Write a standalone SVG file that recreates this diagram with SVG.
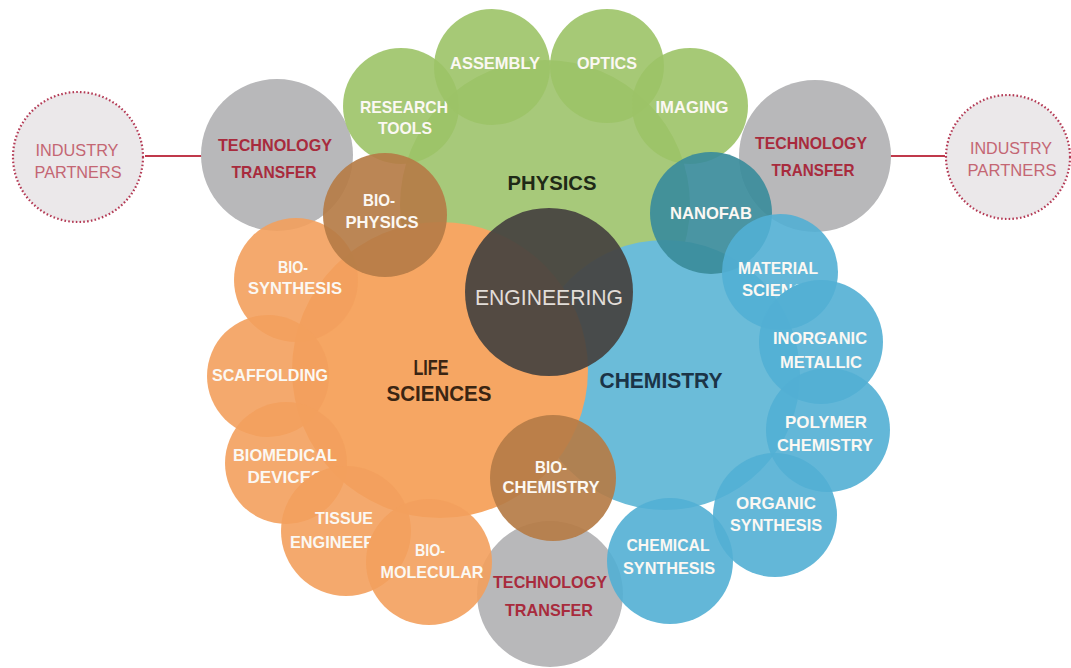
<svg xmlns="http://www.w3.org/2000/svg" width="1071" height="668" viewBox="0 0 1071 668">
<style>
text{font-family:"Liberation Sans",Arial,sans-serif;text-anchor:middle;font-size:17px;fill:#fbf8f3;font-weight:bold}
.tt{fill:#a82b3d}
.ind{fill:#c46673;font-weight:normal}
.main{font-size:22px}
.gray{fill:#b8b8ba}
.grn{fill:#9cc367;fill-opacity:0.9}
.org{fill:#f3a05d;fill-opacity:0.9}
.blu{fill:#52afd4;fill-opacity:0.9}
.brn{fill:#b57c47;fill-opacity:0.92}
.ind-c{fill:#ebe8ea;stroke:#b43a55;stroke-width:2.2;stroke-dasharray:1.6 2.2}
.conn{stroke:#c0394b;stroke-width:2.2}
</style>
<defs>
<clipPath id="notInorganic"><path clip-rule="evenodd" d="M0 0H1071V668H0Z M759 342a62 62 0 1 0 124 0a62 62 0 1 0-124 0Z"/></clipPath>
<clipPath id="notTissue"><path clip-rule="evenodd" d="M0 0H1071V668H0Z M281 531a65 65 0 1 0 130 0a65 65 0 1 0-130 0Z"/></clipPath>
<clipPath id="notBiomol"><path clip-rule="evenodd" d="M0 0H1071V668H0Z M366 562a63 63 0 1 0 126 0a63 63 0 1 0-126 0Z"/></clipPath>
</defs>
<rect width="1071" height="668" fill="#ffffff"/>
<g id="connectors">
<line class="conn" x1="145" y1="156" x2="202" y2="156"/>
<line class="conn" x1="887" y1="156" x2="945" y2="156"/>
</g>
<g id="industry-left"><circle class="ind-c" cx="78" cy="157" r="65"/>
<text class="ind" x="77" y="156" textLength="83" lengthAdjust="spacingAndGlyphs">INDUSTRY</text>
<text class="ind" x="78" y="178" textLength="87" lengthAdjust="spacingAndGlyphs">PARTNERS</text></g>
<g id="industry-right"><circle class="ind-c" cx="1008" cy="157" r="62"/>
<text class="ind" x="1011" y="154" textLength="82" lengthAdjust="spacingAndGlyphs">INDUSTRY</text>
<text class="ind" x="1012" y="176" textLength="89" lengthAdjust="spacingAndGlyphs">PARTNERS</text></g>
<g id="tt-left"><circle class="gray" cx="277" cy="155" r="76"/>
<text class="tt" x="275" y="151" textLength="114" lengthAdjust="spacingAndGlyphs">TECHNOLOGY</text>
<text class="tt" x="274" y="178" textLength="85" lengthAdjust="spacingAndGlyphs">TRANSFER</text></g>
<g id="tt-right"><circle class="gray" cx="815" cy="156" r="76"/>
<text class="tt" x="811" y="149" textLength="112" lengthAdjust="spacingAndGlyphs">TECHNOLOGY</text>
<text class="tt" x="813" y="176" textLength="83" lengthAdjust="spacingAndGlyphs">TRANSFER</text></g>
<g id="tt-bottom"><circle class="gray" cx="550" cy="594" r="73"/></g>
<g id="physics"><circle cx="545" cy="205" r="145" fill="#a7c97a"/></g>
<g id="chemistry"><circle cx="665" cy="375" r="135" fill="#6bbcd9"/></g>
<g id="life-sciences"><circle cx="440" cy="370" r="148" fill="#f6a663"/></g>
<g id="research-tools"><circle class="grn" cx="401" cy="106" r="58"/>
<text x="404" y="113" textLength="88" lengthAdjust="spacingAndGlyphs">RESEARCH</text>
<text x="405" y="134" textLength="54" lengthAdjust="spacingAndGlyphs">TOOLS</text></g>
<g id="assembly"><circle class="grn" cx="492" cy="67" r="58"/>
<text x="495" y="69" textLength="90" lengthAdjust="spacingAndGlyphs">ASSEMBLY</text></g>
<g id="optics"><circle class="grn" cx="607" cy="66" r="57"/>
<text x="607" y="69" textLength="60" lengthAdjust="spacingAndGlyphs">OPTICS</text></g>
<g id="imaging"><circle class="grn" cx="690" cy="106" r="58"/>
<text x="692" y="113" textLength="73" lengthAdjust="spacingAndGlyphs">IMAGING</text></g>
<g id="bio-synthesis"><circle class="org" cx="296" cy="280" r="62"/>
<text x="293" y="273" textLength="30" lengthAdjust="spacingAndGlyphs">BIO-</text>
<text x="295" y="294" textLength="94" lengthAdjust="spacingAndGlyphs">SYNTHESIS</text></g>
<g id="bio-physics"><circle class="brn" cx="385" cy="215" r="62"/>
<text x="379" y="206" textLength="32" lengthAdjust="spacingAndGlyphs">BIO-</text>
<text x="382" y="228" textLength="73" lengthAdjust="spacingAndGlyphs">PHYSICS</text></g>
<g id="scaffolding"><circle class="org" cx="268" cy="376" r="61"/>
<text x="270" y="381" textLength="116" lengthAdjust="spacingAndGlyphs">SCAFFOLDING</text></g>
<g id="biomedical-devices"><circle class="org" cx="286" cy="463" r="61"/>
<text x="285" y="461" textLength="104" lengthAdjust="spacingAndGlyphs">BIOMEDICAL</text>
<text x="285" y="483" textLength="75" lengthAdjust="spacingAndGlyphs" clip-path="url(#notTissue)">DEVICES</text></g>
<g id="tissue-engineering"><circle class="org" cx="346" cy="531" r="65"/>
<text x="344" y="524" textLength="58" lengthAdjust="spacingAndGlyphs">TISSUE</text>
<text x="347" y="548" textLength="114" lengthAdjust="spacingAndGlyphs" clip-path="url(#notBiomol)">ENGINEERING</text></g>
<g id="bio-molecular"><circle class="org" cx="429" cy="562" r="63"/>
<text x="430" y="556" textLength="30" lengthAdjust="spacingAndGlyphs">BIO-</text>
<text x="432" y="578" textLength="103" lengthAdjust="spacingAndGlyphs">MOLECULAR</text></g>
<g id="nanofab"><circle cx="711" cy="213" r="61" fill="#3b8c9b" fill-opacity="0.92"/>
<text x="711" y="219" textLength="82" lengthAdjust="spacingAndGlyphs">NANOFAB</text></g>
<g id="material-science"><circle class="blu" cx="780" cy="272" r="58"/>
<text x="778" y="274" textLength="80" lengthAdjust="spacingAndGlyphs">MATERIAL</text>
<text x="779" y="296" textLength="74" lengthAdjust="spacingAndGlyphs" clip-path="url(#notInorganic)">SCIENCE</text></g>
<g id="inorganic-metallic"><circle class="blu" cx="821" cy="342" r="62"/>
<text x="820" y="344" textLength="94" lengthAdjust="spacingAndGlyphs">INORGANIC</text>
<text x="821" y="368" textLength="82" lengthAdjust="spacingAndGlyphs">METALLIC</text></g>
<g id="organic-synthesis"><circle class="blu" cx="775" cy="515" r="62"/>
<text x="776" y="509" textLength="80" lengthAdjust="spacingAndGlyphs">ORGANIC</text>
<text x="776" y="531" textLength="92" lengthAdjust="spacingAndGlyphs">SYNTHESIS</text></g>
<g id="polymer-chemistry"><circle class="blu" cx="828" cy="430" r="62"/>
<text x="826" y="428" textLength="82" lengthAdjust="spacingAndGlyphs">POLYMER</text>
<text x="825" y="451" textLength="96" lengthAdjust="spacingAndGlyphs">CHEMISTRY</text></g>
<g id="chemical-synthesis"><circle class="blu" cx="670" cy="561" r="63"/>
<text x="668" y="551" textLength="83" lengthAdjust="spacingAndGlyphs">CHEMICAL</text>
<text x="669" y="574" textLength="92" lengthAdjust="spacingAndGlyphs">SYNTHESIS</text></g>
<g id="bio-chemistry"><circle class="brn" cx="553" cy="478" r="63"/>
<text x="551" y="473" textLength="32" lengthAdjust="spacingAndGlyphs">BIO-</text>
<text x="551" y="493" textLength="97" lengthAdjust="spacingAndGlyphs">CHEMISTRY</text></g>
<g id="tt-bottom-label">
<text class="tt" x="550" y="588" textLength="114" lengthAdjust="spacingAndGlyphs">TECHNOLOGY</text>
<text class="tt" x="549" y="616" textLength="88" lengthAdjust="spacingAndGlyphs">TRANSFER</text></g>
<g id="engineering"><circle cx="549" cy="292" r="84" fill="#46433f" fill-opacity="0.93"/>
<text class="main" x="549" y="305" textLength="148" lengthAdjust="spacingAndGlyphs" style="fill:#e2ddd8;font-weight:normal">ENGINEERING</text></g>
<g id="main-labels">
<text class="main" x="552" y="190" textLength="89" lengthAdjust="spacingAndGlyphs" style="fill:#1f2a17;font-size:21px">PHYSICS</text>
<text class="main" x="431" y="375" textLength="35" lengthAdjust="spacingAndGlyphs" style="fill:#3a2513">LIFE</text>
<text class="main" x="439" y="401" textLength="105" lengthAdjust="spacingAndGlyphs" style="fill:#3a2513">SCIENCES</text>
<text class="main" x="661" y="388" textLength="123" lengthAdjust="spacingAndGlyphs" style="fill:#1b3447">CHEMISTRY</text>
</g>
</svg>
